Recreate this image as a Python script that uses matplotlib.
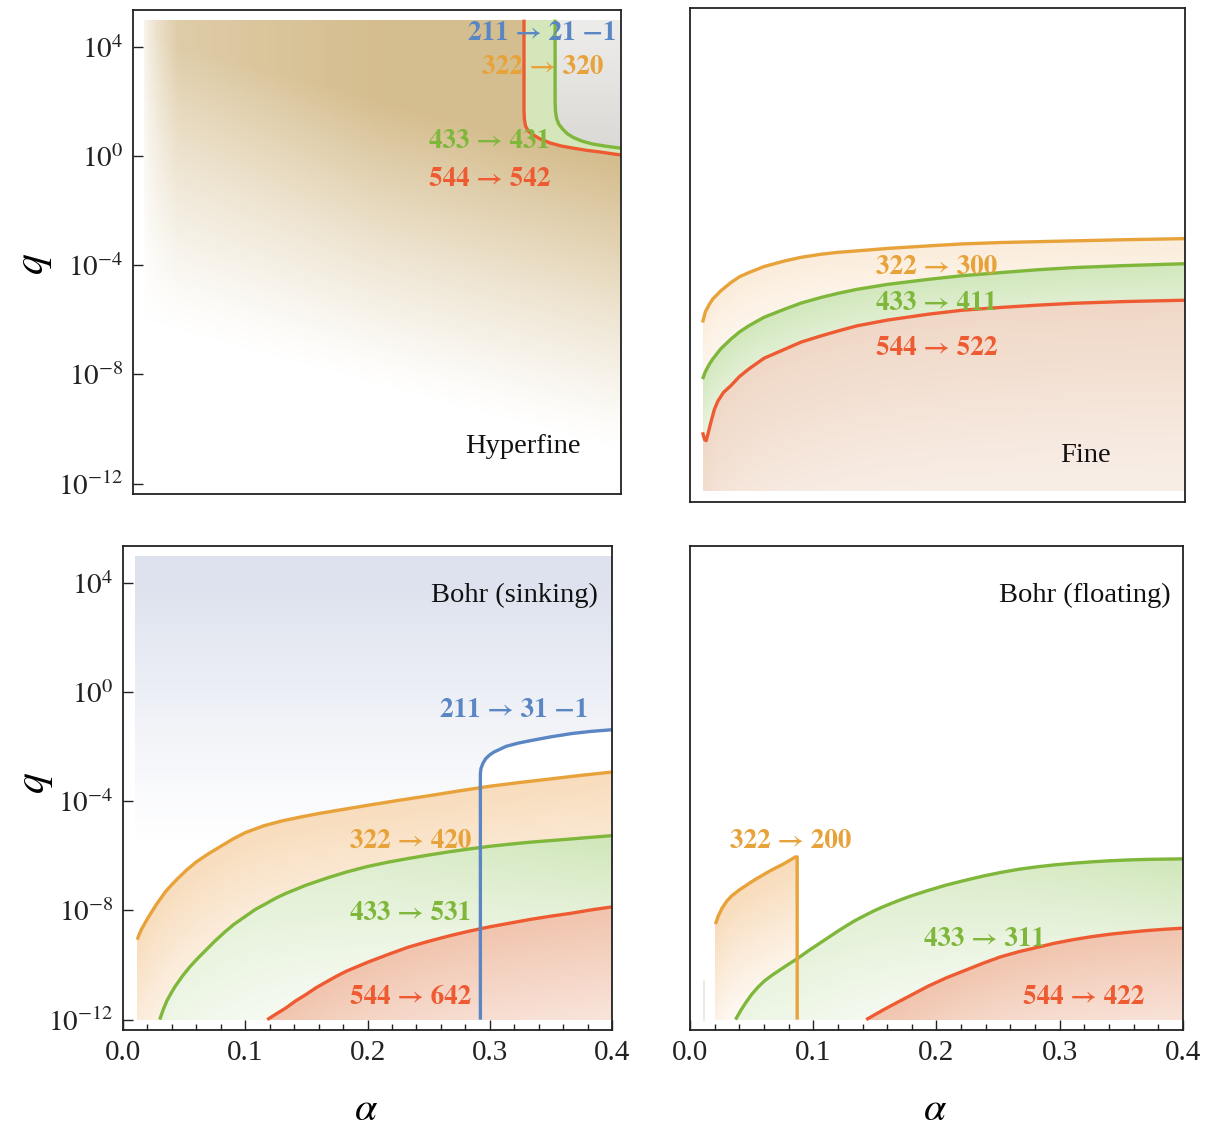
import numpy as np
import matplotlib
matplotlib.use("Agg")
import matplotlib.pyplot as plt
from matplotlib.path import Path
from matplotlib.ticker import FixedLocator, MultipleLocator, NullLocator, FormatStrFormatter

plt.rcParams['font.family'] = ['Liberation Serif', 'DejaVu Serif']
plt.rcParams['mathtext.fontset'] = 'stix'
LABEL_FONT = ['STIXGeneral', 'Liberation Serif', 'DejaVu Serif']

ORANGE = '#e8a23a'
GREEN = '#7fb73b'
RED = '#ee5b33'
BLUE = '#5a86c3'

# ---- curve data: alpha values and log10(q) ----
# Hyperfine
hf_red_a = [0.3205, 0.3205, 0.3208, 0.3218, 0.3240, 0.328, 0.334, 0.342, 0.351, 0.361, 0.372, 0.383, 0.392, 0.400]
hf_red_lq = [5.0, 1.7, 1.35, 1.10, 0.92, 0.78, 0.62, 0.48, 0.37, 0.29, 0.21, 0.15, 0.09, 0.04]
hf_green_a = [0.3460, 0.3460, 0.3463, 0.3472, 0.3490, 0.352, 0.356, 0.361, 0.368, 0.377, 0.388, 0.400]
hf_green_lq = [5.0, 2.0, 1.65, 1.38, 1.17, 1.0, 0.82, 0.68, 0.55, 0.44, 0.36, 0.29]

# Fine
fi_orange_a = [0.0102, 0.0125, 0.0155, 0.0184, 0.025, 0.033, 0.040, 0.0475, 0.060, 0.0766, 0.090, 0.106,
               0.120, 0.135, 0.160, 0.193, 0.220, 0.251, 0.280, 0.310, 0.350, 0.400]
fi_orange_lq = [-5.94, -5.55, -5.30, -5.10, -4.80, -4.51, -4.30, -4.15, -3.93, -3.73, -3.60, -3.49,
                -3.42, -3.37, -3.28, -3.19, -3.12, -3.07, -3.04, -3.01, -2.97, -2.93]
fi_green_a = [0.0102, 0.0125, 0.0155, 0.0184, 0.025, 0.033, 0.040, 0.0475, 0.060, 0.0766, 0.090, 0.106,
              0.120, 0.135, 0.160, 0.193, 0.220, 0.251, 0.280, 0.310, 0.350, 0.400]
fi_green_lq = [-7.97, -7.70, -7.45, -7.25, -6.88, -6.54, -6.28, -6.06, -5.75, -5.46, -5.24, -5.04,
               -4.89, -4.75, -4.57, -4.39, -4.26, -4.15, -4.05, -3.97, -3.90, -3.83]
fi_red_a = [0.0102, 0.0119, 0.0131, 0.0149, 0.0169, 0.0198, 0.0227, 0.0271, 0.033, 0.040, 0.0475, 0.060,
            0.0766, 0.090, 0.106, 0.120, 0.135, 0.160, 0.193, 0.220, 0.251, 0.280, 0.310, 0.350, 0.400]
fi_red_lq = [-9.88, -10.15, -10.18, -9.88, -9.52, -9.05, -8.75, -8.45, -8.21, -7.88, -7.61, -7.22,
             -6.90, -6.64, -6.42, -6.24, -6.06, -5.85, -5.64, -5.50, -5.40, -5.32, -5.25, -5.19, -5.14]

# Bohr (sinking)
bs_orange_a = [0.0117, 0.013, 0.015, 0.0175, 0.020, 0.0235, 0.027, 0.031, 0.035, 0.040, 0.045, 0.052,
               0.060, 0.070, 0.080, 0.090, 0.100, 0.115, 0.130, 0.145, 0.160, 0.180, 0.200, 0.225,
               0.250, 0.275, 0.300, 0.325, 0.350, 0.375, 0.400]
bs_orange_lq = [-9.07, -8.90, -8.70, -8.50, -8.30, -8.05, -7.80, -7.55, -7.30, -7.05, -6.82, -6.52,
                -6.22, -5.92, -5.65, -5.38, -5.15, -4.90, -4.72, -4.58, -4.45, -4.30, -4.15, -3.97,
                -3.80, -3.62, -3.45, -3.31, -3.18, -3.05, -2.93]
bs_green_a = [0.030, 0.033, 0.036, 0.040, 0.043, 0.049, 0.055, 0.061, 0.067, 0.075, 0.083, 0.091,
              0.100, 0.108, 0.117, 0.125, 0.133, 0.150, 0.167, 0.183, 0.200, 0.217, 0.233, 0.250,
              0.267, 0.283, 0.300, 0.317, 0.333, 0.350, 0.367, 0.383, 0.400]
bs_green_lq = [-12.0, -11.62, -11.30, -10.98, -10.76, -10.38, -10.05, -9.76, -9.49, -9.13, -8.80, -8.50,
               -8.22, -7.97, -7.75, -7.55, -7.38, -7.07, -6.81, -6.59, -6.39, -6.23, -6.10, -5.97,
               -5.85, -5.75, -5.65, -5.57, -5.50, -5.44, -5.38, -5.32, -5.26]
bs_red_a = [0.118, 0.125, 0.133, 0.141, 0.150, 0.158, 0.167, 0.175, 0.183, 0.192, 0.200, 0.217, 0.233,
            0.250, 0.267, 0.283, 0.300, 0.317, 0.333, 0.350, 0.367, 0.383, 0.400]
bs_red_lq = [-12.0, -11.80, -11.58, -11.32, -11.07, -10.83, -10.60, -10.40, -10.22, -10.05, -9.90, -9.61,
             -9.35, -9.13, -8.93, -8.76, -8.60, -8.46, -8.33, -8.21, -8.10, -7.98, -7.87]
bs_blue_a = [0.2923, 0.2923, 0.2928, 0.2945, 0.2967, 0.3000, 0.3033, 0.3133, 0.3233, 0.3333, 0.350,
             0.367, 0.383, 0.400]
bs_blue_lq = [-12.0, -3.0, -2.8, -2.6, -2.44, -2.3, -2.2, -1.99, -1.87, -1.78, -1.64, -1.52, -1.44, -1.38]

# Bohr (floating)
bf_orange_a = [0.0207, 0.023, 0.026, 0.030, 0.034, 0.040, 0.045, 0.050, 0.055, 0.060, 0.065, 0.070,
               0.075, 0.080, 0.0856, 0.0870, 0.0870]
bf_orange_lq = [-8.50, -8.20, -7.92, -7.65, -7.46, -7.25, -7.10, -6.95, -6.81, -6.68, -6.55, -6.43,
                -6.32, -6.19, -6.04, -6.04, -12.0]
bf_green_a = [0.037, 0.041, 0.045, 0.050, 0.055, 0.0605, 0.067, 0.075, 0.081, 0.087, 0.096, 0.105,
              0.113, 0.120, 0.127, 0.134, 0.142, 0.150, 0.157, 0.164, 0.172, 0.180, 0.193, 0.208,
              0.223, 0.238, 0.252, 0.267, 0.282, 0.296, 0.311, 0.326, 0.341, 0.356, 0.370, 0.385, 0.400]
bf_green_lq = [-12.0, -11.68, -11.40, -11.08, -10.82, -10.58, -10.36, -10.12, -9.94, -9.77, -9.48, -9.21,
               -8.97, -8.76, -8.56, -8.37, -8.18, -8.00, -7.86, -7.73, -7.59, -7.46, -7.27, -7.07,
               -6.90, -6.74, -6.61, -6.49, -6.40, -6.33, -6.27, -6.22, -6.18, -6.15, -6.13, -6.12, -6.11]
bf_red_a = [0.143, 0.150, 0.157, 0.164, 0.172, 0.180, 0.193, 0.208, 0.223, 0.238, 0.252, 0.267, 0.282,
            0.296, 0.311, 0.326, 0.341, 0.356, 0.370, 0.385, 0.400]
bf_red_lq = [-12.0, -11.82, -11.64, -11.47, -11.28, -11.09, -10.78, -10.47, -10.20, -9.93, -9.70, -9.51,
             -9.35, -9.20, -9.07, -8.96, -8.87, -8.80, -8.74, -8.69, -8.65]
bf_faint_a = [0.011, 0.011]
bf_faint_lq = [-10.6, -12.0]

yticks_exp = [4, 0, -4, -8, -12]
LQ_BOT, LQ_TOP = -12.0, 5.0

# grid for the shaded gradients
GA, GL = np.meshgrid(np.linspace(0, 0.4, 321), np.linspace(-12.5, 5.5, 361))
CA = 0.5 * (GA[:-1, :-1] + GA[1:, 1:])
CL = 0.5 * (GL[:-1, :-1] + GL[1:, 1:])


def shade(ax, pa, plq, rgb, alpha, white=True):
    verts = np.column_stack([pa, 10.0 ** np.asarray(plq)])
    path = Path(np.vstack([verts, verts[:1]]), closed=True)
    if white:
        ax.fill(verts[:, 0], verts[:, 1], color='white', lw=0, zorder=1)
    rgba = np.zeros(CA.shape + (4,))
    rgba[..., :3] = np.array(rgb) / 255.0
    rgba[..., 3] = np.clip(alpha, 0, 1)
    m = ax.pcolormesh(GA, 10.0 ** GL, rgba, shading='flat', zorder=1, antialiased=False)
    m.set_clip_path(path, ax.transData)


def under(ca, clq, d_scale):
    # normalised distance below a curve
    c = np.interp(CA, ca, clq)
    return np.clip(1 - (c - CL) / d_scale, 0, 1)


def style(ax, xlab, ylab, ylab_pos=None):
    ax.set_yscale('log')
    ax.set_xlim(0, 0.4)
    ax.set_ylim(10 ** -12.38, 10 ** 5.35)
    for s in ax.spines.values():
        s.set_linewidth(1.3)
        s.set_color('#222222')
        s.set_zorder(5)
    ax.yaxis.set_major_locator(FixedLocator([10.0 ** e for e in yticks_exp]))
    ax.yaxis.set_minor_locator(NullLocator())
    ax.set_yticklabels([r'$10^{%d}$' % e for e in yticks_exp])
    ax.xaxis.set_major_locator(MultipleLocator(0.1))
    ax.xaxis.set_minor_locator(MultipleLocator(0.02))
    ax.xaxis.set_major_formatter(FormatStrFormatter('%.1f'))
    ax.tick_params(which='both', direction='in', top=False, right=False, width=1.0,
                   labelsize=21, pad=7, colors='#222222')
    ax.tick_params(which='major', length=7)
    ax.tick_params(which='minor', length=4)
    if not xlab:
        ax.tick_params(axis='x', which='both', bottom=False, labelbottom=False)
    else:
        ax.set_xlabel(r'$\alpha$', fontsize=29)
        ax.xaxis.set_label_coords(0.497, -0.128)
    if not ylab:
        ax.tick_params(axis='y', which='both', left=False, labelleft=False)
    else:
        ax.set_ylabel(r'$q$', fontsize=30)
        ax.yaxis.set_label_coords(*ylab_pos)


def label(ax, x, y, s, c, bold=True):
    ax.text(x, y, s, transform=ax.transAxes, ha='center', va='center',
            fontsize=19.5 if bold else 20.5, family=LABEL_FONT if bold else None,
            color=c, fontweight='bold' if bold else 'normal', zorder=6)


def line(ax, a, lq, c):
    ax.plot(a, 10.0 ** np.asarray(lq), color=c, lw=2.4, zorder=3, solid_capstyle='butt')


fig = plt.figure(figsize=(12.06, 11.30), dpi=100)
ax_hf = fig.add_axes([0.1103, 0.5628, 0.4046, 0.4283])
ax_fi = fig.add_axes([0.5721, 0.5558, 0.4104, 0.4372])
ax_bs = fig.add_axes([0.1020, 0.0885, 0.4055, 0.4283])
ax_bf = fig.add_axes([0.5721, 0.0885, 0.4088, 0.4283])

# ---------------- Hyperfine ----------------
ax = ax_hf
g = np.clip((CL + 12.0 * CA + 6.0) / 10.5, 0, 1) ** 1.2
h = 0.72 + 0.28 * np.clip(CA / 0.2, 0, 1)
edge = np.clip((CA - 0.007) / 0.03, 0, 1) ** 0.6
tan_alpha = 0.88 * g * h * edge
shade(ax, [0.009, 0.009] + hf_red_a + [0.4], [LQ_BOT, LQ_TOP] + hf_red_lq + [LQ_BOT],
      (207, 180, 126), tan_alpha, white=False)
shade(ax, hf_red_a + hf_green_a[::-1], hf_red_lq + hf_green_lq[::-1],
      (185, 215, 140), 0.6 + 0 * CA, white=False)
grey_alpha = 0.35 + 0.3 * np.clip((4.5 - CL) / 4, 0, 1)
shade(ax, hf_green_a + [0.4], hf_green_lq + [LQ_TOP], (200, 198, 192), grey_alpha, white=False)
line(ax, hf_green_a, hf_green_lq, GREEN)
line(ax, hf_red_a, hf_red_lq, RED)
label(ax, 0.838, 0.952, '211 → 21 −1', BLUE)
label(ax, 0.840, 0.882, '322 → 320', ORANGE)
label(ax, 0.730, 0.729, '433 → 431', GREEN)
label(ax, 0.730, 0.649, '544 → 542', RED)
label(ax, 0.799, 0.099, 'Hyperfine', '#111111', bold=False)
style(ax, False, True, (-0.161, 0.475))

# ---------------- Fine ----------------
ax = ax_fi
shade(ax, fi_orange_a + [0.4, fi_orange_a[0]], fi_orange_lq + [LQ_BOT, LQ_BOT],
      (240, 180, 110), 0.25 * under(fi_orange_a, fi_orange_lq, 4))
shade(ax, fi_green_a + [0.4, fi_green_a[0]], fi_green_lq + [LQ_BOT, LQ_BOT],
      (150, 200, 100), 0.36 * under(fi_green_a, fi_green_lq, 3.5) + 0.07)
shade(ax, fi_red_a + [0.4, fi_red_a[0]], fi_red_lq + [LQ_BOT, LQ_BOT],
      (220, 165, 125), 0.2 + 0.24 * under(fi_red_a, fi_red_lq, 6))
line(ax, fi_orange_a, fi_orange_lq, ORANGE)
line(ax, fi_green_a, fi_green_lq, GREEN)
line(ax, fi_red_a, fi_red_lq, RED)
label(ax, 0.499, 0.474, '322 → 300', ORANGE)
label(ax, 0.499, 0.401, '433 → 411', GREEN)
label(ax, 0.499, 0.310, '544 → 522', RED)
label(ax, 0.800, 0.095, 'Fine', '#111111', bold=False)
style(ax, False, False)

# ---------------- Bohr (sinking) ----------------
ax = ax_bs
blue_alpha = np.clip((CL + 5.5) / 9.5, 0, 1) ** 1.1
shade(ax, [0.01, 0.01, 0.4, 0.4], [LQ_BOT, LQ_TOP, LQ_TOP, LQ_BOT], (221, 226, 238), blue_alpha,
      white=False)
ax.fill(bs_blue_a + [0.4], 10.0 ** np.asarray(bs_blue_lq + [LQ_BOT]), color='white', lw=0, zorder=1)
shade(ax, bs_orange_a + [0.4, bs_orange_a[0]], bs_orange_lq + [LQ_BOT, LQ_BOT],
      (240, 180, 110), 0.42 * under(bs_orange_a, bs_orange_lq, 6.5) + 0.04)
shade(ax, bs_green_a + [0.4, bs_green_a[0]], bs_green_lq + [LQ_BOT, LQ_BOT],
      (150, 200, 100), 0.45 * under(bs_green_a, bs_green_lq, 6.5) * (0.35 + 0.65 * CA / 0.4))
shade(ax, bs_red_a + [0.4, bs_red_a[0]], bs_red_lq + [LQ_BOT, LQ_BOT],
      (230, 150, 110), 0.26 + 0.3 * under(bs_red_a, bs_red_lq, 4))
line(ax, bs_orange_a, bs_orange_lq, ORANGE)
line(ax, bs_green_a, bs_green_lq, GREEN)
line(ax, bs_red_a, bs_red_lq, RED)
line(ax, bs_blue_a, bs_blue_lq, BLUE)
label(ax, 0.801, 0.897, 'Bohr (sinking)', '#111111', bold=False)
label(ax, 0.799, 0.661, '211 → 31 −1', BLUE)
label(ax, 0.589, 0.390, '322 → 420', ORANGE)
label(ax, 0.589, 0.240, '433 → 531', GREEN)
label(ax, 0.589, 0.068, '544 → 642', RED)
style(ax, True, True, (-0.139, 0.51))

# ---------------- Bohr (floating) ----------------
ax = ax_bf
shade(ax, bf_orange_a + [bf_orange_a[0]], bf_orange_lq + [LQ_BOT],
      (240, 180, 110), 0.45 * under(bf_orange_a[:-1], bf_orange_lq[:-1], 5) + 0.03)
shade(ax, bf_green_a + [0.4, bf_green_a[0]], bf_green_lq + [LQ_BOT, LQ_BOT],
      (150, 200, 100), 0.45 * under(bf_green_a, bf_green_lq, 6.0) * (0.35 + 0.65 * CA / 0.4))
shade(ax, bf_red_a + [0.4, bf_red_a[0]], bf_red_lq + [LQ_BOT, LQ_BOT],
      (230, 150, 110), 0.26 + 0.3 * under(bf_red_a, bf_red_lq, 3.5))
ax.plot(bf_faint_a, 10.0 ** np.asarray(bf_faint_lq), color='#ece6da', lw=1.2, zorder=2)
line(ax, bf_green_a, bf_green_lq, GREEN)
line(ax, bf_red_a, bf_red_lq, RED)
line(ax, bf_orange_a, bf_orange_lq, ORANGE)
label(ax, 0.801, 0.897, 'Bohr (floating)', '#111111', bold=False)
label(ax, 0.205, 0.390, '322 → 200', ORANGE)
label(ax, 0.598, 0.188, '433 → 311', GREEN)
label(ax, 0.799, 0.068, '544 → 422', RED)
style(ax, True, False)

fig.savefig('out.png', dpi=100)
